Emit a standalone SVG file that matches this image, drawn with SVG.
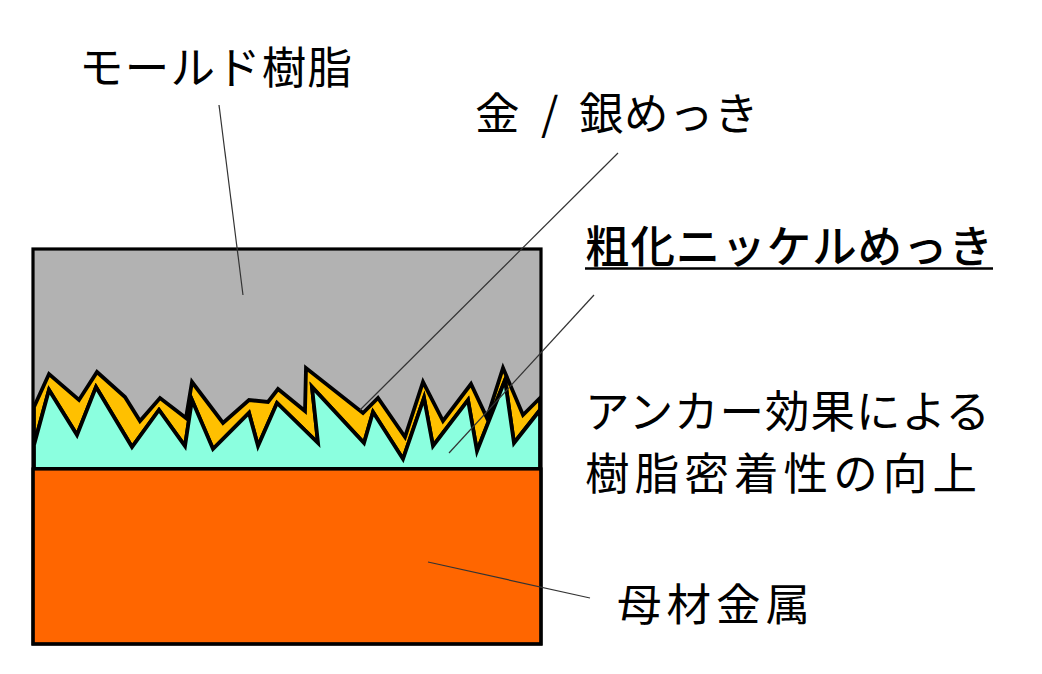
<svg xmlns="http://www.w3.org/2000/svg" width="1042" height="674" viewBox="0 0 1042 674">
<style>
.l{fill:none;stroke:#333;stroke-width:1.2}
.s{stroke:#000;stroke-width:3.8;stroke-linejoin:miter;stroke-miterlimit:5}
text{font-family:"Noto Sans CJK JP","Liberation Sans",sans-serif;font-size:44.5px;fill:#000}
</style>
<rect width="1042" height="674" fill="#fff"/>
<g id="layers">
<rect id="resin" x="33" y="249" width="508" height="220" fill="#b2b2b2"/>
<polygon id="gold" class="s" fill="#ffc000" points="34,407 49,374 79,400 97,372 125,397 140,421 160,398 186,418 192,382 223,423 249,400 268,402 278,389 305,411 306,368 363,413 378,398 405,437 423,382 443,421 471,384 487,418 503,368 523,415 540,398 540,410 514,443 505,380 477,451 468,400 433,446 424,398 403,459 373,412 364,443 312,387 318,443 277,403 258,446 249,413 213,449 192,400 185,446 159,410 132,447 96,387 77,435 49,390 34,445"/>
<polygon id="nickel" class="s" fill="#8bffdf" points="34,445 49,390 77,435 96,387 132,447 159,410 185,446 192,400 213,449 249,413 258,446 277,403 318,443 312,387 364,443 373,412 403,459 424,398 433,446 468,400 477,451 505,380 514,443 540,410 540,469 34,469"/>
<rect id="base" x="33" y="469" width="508" height="175" fill="#ff6600" stroke="#000" stroke-width="3.2"/>
<rect id="frame" x="33" y="249" width="508" height="395" fill="none" stroke="#000" stroke-width="3.2"/>
</g>
<g id="connectors">
<line class="l" x1="219" y1="105" x2="243" y2="295"/>
<line class="l" x1="618" y1="153" x2="360" y2="410"/>
<line class="l" x1="594" y1="295" x2="449" y2="453"/>
<line class="l" x1="428" y1="562" x2="590" y2="598"/>
</g>
<g id="label-resin"><text x="79" y="84" textLength="273">モールド樹脂</text></g>
<g id="label-gold"><text x="475 520 541 560 579 624 669 714" y="130" xml:space="preserve">金 / 銀めっき</text></g>
<g id="label-nickel"><text x="585" y="263" font-weight="500" textLength="408">粗化ニッケルめっき</text><line x1="585" y1="268.5" x2="993" y2="268.5" stroke="#000" stroke-width="2.4"/></g>
<g id="label-anchor"><text x="585" y="428" textLength="405">アンカー効果による</text><text x="585" y="490" textLength="392">樹脂密着性の向上</text></g>
<g id="label-base"><text x="617" y="621" textLength="193">母材金属</text></g>
</svg>
